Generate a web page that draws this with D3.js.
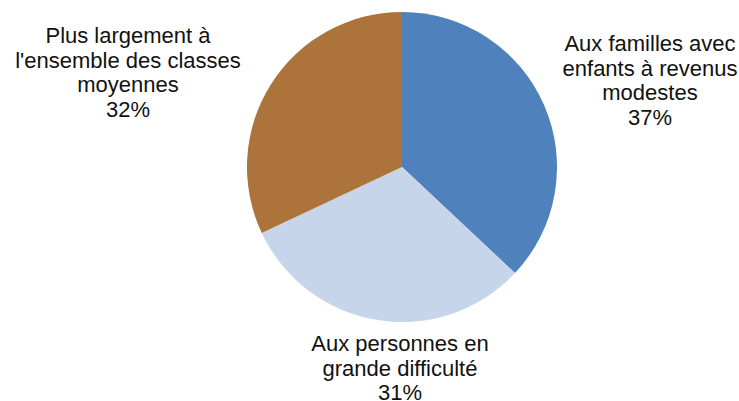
<!DOCTYPE html>
<html><head><meta charset="utf-8">
<script src="https://cdn.jsdelivr.net/npm/d3@7"></script>
<style>body{margin:0;background:#fff}svg{display:block}</style>
</head><body>
<svg id="c" width="739" height="401"></svg>
<script>
const categories = [
  ["Aux familles avec", "enfants à revenus", "modestes"],
  ["Aux personnes en", "grande difficulté"],
  ["Plus largement à", "l'ensemble des classes", "moyennes"]
];
const values = [37, 31, 32];
const colors = ["#4F81BD", "#C6D5EA", "#AC743B"];
const labelPos = [[650, 51], [400, 351], [128, 43]];

const svg = d3.select("#c");
const cx = 402, cy = 167, r = 155;
const g = svg.append("g").attr("transform", `translate(${cx},${cy})`);
const pie = d3.pie().sort(null).value(d => d)(values);
const arc = d3.arc().innerRadius(0).outerRadius(r);
g.selectAll("path").data(pie).join("path")
  .attr("d", arc).attr("fill", (d, i) => colors[i]);

values.forEach((v, i) => {
  const lines = categories[i].concat([v + "%"]);
  const t = svg.append("text")
    .attr("font-family", "Liberation Sans, Arial, sans-serif")
    .attr("font-size", 22).attr("fill", "#111").attr("text-anchor", "middle");
  lines.forEach((l, j) => {
    t.append("tspan").attr("x", labelPos[i][0]).attr("y", labelPos[i][1] + j * 24.5).text(l);
  });
});
</script>
</body></html>
